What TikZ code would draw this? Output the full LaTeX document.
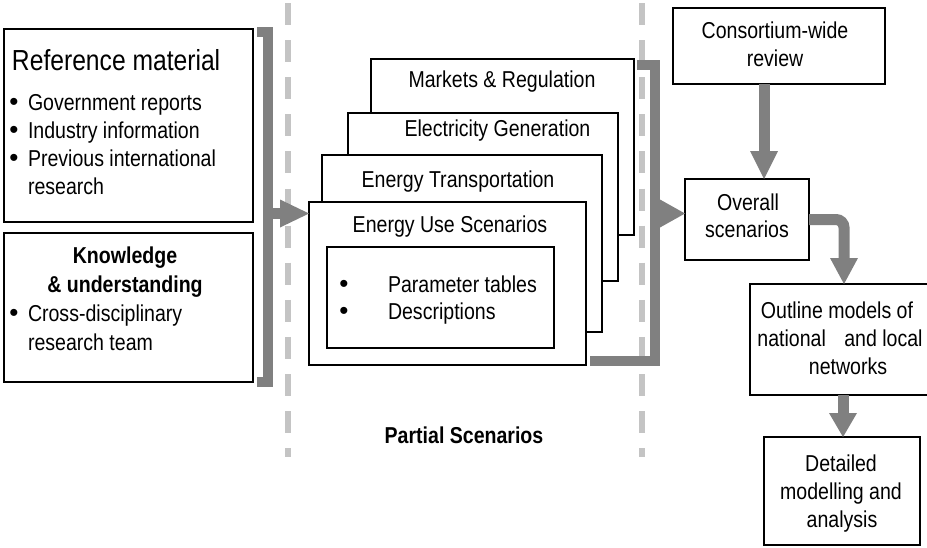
\documentclass[tikz,border=0pt]{standalone}
\usepackage{fontspec}
\setmainfont{Liberation Sans}[FakeStretch=0.85]
\newfontfamily\bulfont{Liberation Sans}
\usetikzlibrary{arrows.meta,fit}
\definecolor{gbar}{HTML}{808080}
\definecolor{gdash}{HTML}{C4C4C4}
\begin{document}
\begin{tikzpicture}[x=1pt,y=-1pt,
  box/.style={draw=black,line width=1.5pt,fill=white,inner sep=0pt,outer sep=0pt},
  txt/.style={inner sep=0pt,outer sep=0pt,font=\fontsize{23}{28}\selectfont},
  btxt/.style={inner sep=0pt,outer sep=0pt,font=\fontsize{23}{28}\selectfont\bfseries},
  htxt/.style={inner sep=0pt,outer sep=0pt,font=\fontsize{29}{34}\selectfont},
  bul/.style={inner sep=0pt,outer sep=0pt,font=\bulfont\fontsize{26}{28}\selectfont,anchor=base},
  brk/.style={draw=gbar,line width=10pt,line join=miter,line cap=butt},
  garrow/.style={draw=gbar,line width=11pt,line cap=butt,-{Triangle[length=#1,width=28pt,line width=0pt]}},
  garrow/.default=27pt,
  dline/.style={draw=gdash,line width=6pt,dash pattern=on 22pt off 15.1pt}]

\clip (0,0) rectangle (927,547);
\fill[white] (0,0) rectangle (927,547);

% dashed separators
\draw[dline] (288,3) -- (288,457);
\draw[dline] (642,3) -- (642,457);

% left column
\node[box,fit={(4,29)(253,222)}] (ref) {};
\node[box,fit={(4,233)(253,382)}] (know) {};

\node[htxt,anchor=base west] (refh) at (12,70) {Reference material};
\node[bul] (rb1) at (14,110) {•};
\node[txt,anchor=base west] (r1) at (28,110) {Government reports};
\node[bul] (rb2) at (14,138) {•};
\node[txt,anchor=base west] (r2) at (28,138) {Industry information};
\node[bul] (rb3) at (14,166) {•};
\node[txt,anchor=base west] (r3) at (28,166) {Previous international};
\node[txt,anchor=base west] (r4) at (28,194) {research};

\node[btxt,anchor=base] (k1) at (125,263) {Knowledge};
\node[btxt,anchor=base] (k2) at (125,292) {\& understanding};
\node[bul] (kb1) at (14,321) {•};
\node[txt,anchor=base west] (k3) at (28,321) {Cross-disciplinary};
\node[txt,anchor=base west] (k4) at (28,350) {research team};

% stacked partial scenario sheets
\node[box,fit={(371,59)(634,235)}] (mkt) {};
\node[txt,anchor=base] (mktT) at (502,87) {Markets \& Regulation};
\node[box,fit={(348,113)(618,281)}] (elec) {};
\node[txt,anchor=base] (elecT) at (497.5,136) {Electricity Generation};
\node[box,fit={(322,155)(602,332)}] (trans) {};
\node[txt,anchor=base] (transT) at (458,187) {Energy Transportation};
\node[box,fit={(309,202)(586,365)}] (euse) {};
\node[txt,anchor=base] (euseT) at (450,232) {Energy Use Scenarios};
\node[box,fit={(327,247)(554,348)}] (param) {};
\node[bul] (pb1) at (344,292) {•};
\node[txt,anchor=base west] (p1) at (388,292) {Parameter tables};
\node[bul] (pb2) at (344,319) {•};
\node[txt,anchor=base west] (p2) at (388,319) {Descriptions};

\node[btxt,anchor=base] (partial) at (464,443) {Partial Scenarios};

% right column
\node[box,fit={(673,8)(885,84)}] (cons) {};
\node[txt,anchor=base] (cons1) at (775,38) {Consortium-wide};
\node[txt,anchor=base] (cons2) at (775,66) {review};

\node[box,fit={(685,179)(809,260)}] (over) {};
\node[txt,anchor=base] (over1) at (748,210) {Overall};
\node[txt,anchor=base] (over2) at (747,237) {scenarios};

\node[box,fit={(750,284)(934,395)}] (outl) {};
\node[txt,anchor=base] (outl1) at (837,318) {Outline models of};
\node[txt,anchor=base] (outl2) at (840,346) {national\hspace{13pt} and local};
\node[txt,anchor=base] (outl3) at (848,374) {networks};

\node[box,fit={(764,437)(920,545)}] (det) {};
\node[txt,anchor=base] (det1) at (841,471) {Detailed};
\node[txt,anchor=base] (det2) at (841,499) {modelling and};
\node[txt,anchor=base] (det3) at (842,527) {analysis};

% brackets
\draw[brk] (257,32) -- (268,32) -- (268,382) -- (257,382);
\draw[brk] (637,65) -- (655,65) -- (655,361) -- (590,361);

% connectors
\coordinate (lb) at (268,213.5);
\draw[garrow=29pt] (lb) -- (lb -| euse.west);
\coordinate (rb) at (655,213.5);
\draw[garrow=25pt] (rb) -- (rb -| over.west);
\coordinate (cx) at (764,0);
\draw[garrow=28pt] (cons.south -| cx) -- (over.north -| cx);
\coordinate (ex) at (844,0);
\draw[garrow=26pt,rounded corners=8pt] (over.east) -| (outl.north -| ex);
\coordinate (dx) at (843,0);
\draw[garrow=24pt] (outl.south -| dx) -- (det.north -| dx);
\end{tikzpicture}
\end{document}
